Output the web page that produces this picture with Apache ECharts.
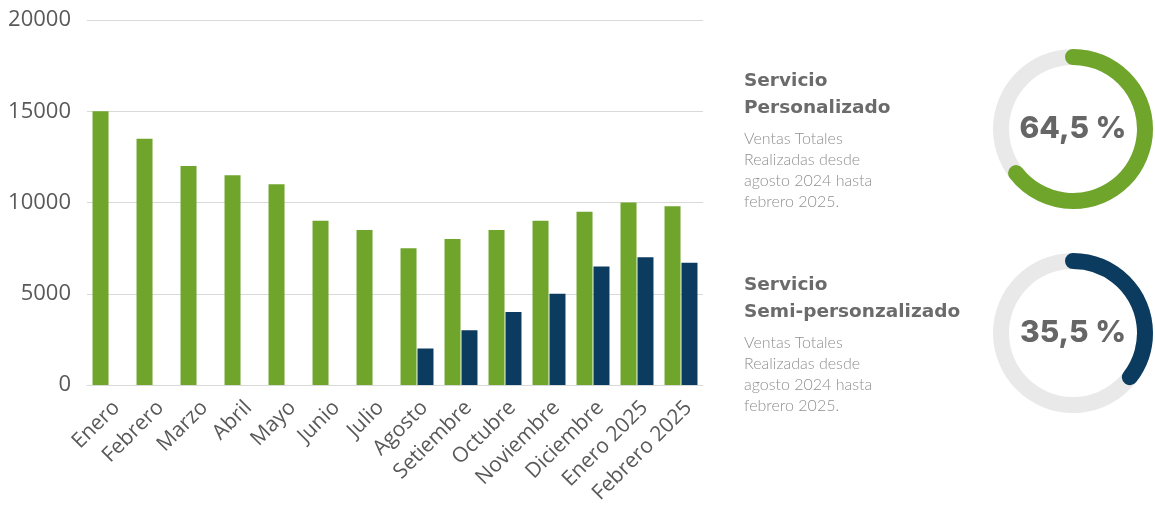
<!DOCTYPE html>
<html>
<head>
<meta charset="utf-8">
<script src="https://cdn.jsdelivr.net/npm/echarts@6/dist/echarts.min.js"></script>
<style>
  html, body { margin: 0; padding: 0; background: #fff; }
  #chart { width: 1155px; height: 509px; }
</style>
</head>
<body>
<div id="chart"></div>
<script>
const months = [
  'Enero', 'Febrero', 'Marzo', 'Abril', 'Mayo', 'Junio', 'Julio',
  'Agosto', 'Setiembre', 'Octubre', 'Noviembre', 'Diciembre', 'Enero 2025', 'Febrero 2025',
]
const personalizado = [15000, 13500, 12000, 11500, 11000, 9000, 8500, 7500, 8000, 8500, 9000, 9500, 10000, 9800]
const semiPersonalizado = [null, null, null, null, null, null, null, 2000, 3000, 4000, 5000, 6500, 7000, 6700]
const yTicks = [0, 5000, 10000, 15000, 20000]

const serviceTitles = ['Servicio\nPersonalizado', 'Servicio\nSemi-personzalizado']
const serviceShares = [64.5, 35.5]
const serviceNote = 'Ventas Totales\nRealizadas desde\nagosto 2024 hasta\nfebrero 2025.'

const GREEN = '#6fa52a'
const NAVY = '#0b3b5f'
const GREY_TEXT = '#595959'

const chart = echarts.init(document.getElementById('chart'), null, { renderer: 'canvas' })

// one ring per service share
function ring(value, color, cy) {
  return {
    type: 'gauge',
    center: [1073, cy],
    radius: 80,
    startAngle: 90,
    endAngle: -270,
    min: 0,
    max: 100,
    pointer: { show: false },
    anchor: { show: false },
    splitLine: { show: false },
    axisTick: { show: false },
    axisLabel: { show: false },
    title: { show: false },
    progress: {
      show: true,
      roundCap: true,
      width: 16,
      itemStyle: { color },
    },
    axisLine: {
      lineStyle: { width: 16, color: [[1, '#e9e9e9']] },
    },
    detail: {
      offsetCenter: [0, 0],
      fontFamily: 'Inter',
      fontWeight: 800,
      fontSize: 30,
      color: '#666666',
      formatter: v => v.toFixed(1).replace('.', ',') + ' %',
    },
    data: [{ value }],
  }
}

function textBlock(top, title, note) {
  return [
    {
      type: 'text',
      left: 744,
      top,
      style: {
        text: title,
        font: 'bold 18.5px "DejaVu Sans"',
        fill: '#6b6b6b',
        lineHeight: 27,
      },
    },
    {
      type: 'text',
      left: 744,
      top: top + 60,
      style: {
        text: note,
        font: '300 16px Lato',
        fill: '#909090',
        lineHeight: 21,
      },
    },
  ]
}

chart.setOption({
  backgroundColor: '#ffffff',
  animation: false,
  grid: {
    left: 87,
    right: 452,
    top: 20,
    bottom: 124,
    containLabel: false,
  },
  xAxis: {
    type: 'category',
    data: months,
    axisLine: { lineStyle: { color: '#d9d9d9' } },
    axisTick: { show: false },
    axisLabel: {
      rotate: 45,
      interval: 0,
      margin: 12,
      verticalAlign: 'top',
      fontFamily: 'Open Sans',
      fontSize: 21,
      color: GREY_TEXT,
    },
  },
  yAxis: {
    type: 'value',
    min: yTicks[0],
    max: yTicks[yTicks.length - 1],
    interval: yTicks[1] - yTicks[0],
    axisLine: { show: false },
    axisTick: { show: false },
    splitLine: { lineStyle: { color: '#d9d9d9' } },
    axisLabel: {
      margin: 16,
      fontFamily: 'Open Sans',
      fontSize: 22,
      color: GREY_TEXT,
      formatter: v => String(v),
    },
  },
  series: [
    {
      name: 'Servicio Personalizado',
      type: 'bar',
      data: personalizado,
      barWidth: 16,
      barGap: '6%',
      itemStyle: { color: GREEN },
    },
    {
      name: 'Servicio Semi-personzalizado',
      type: 'bar',
      data: semiPersonalizado,
      barWidth: 16,
      itemStyle: { color: NAVY },
    },
    ring(serviceShares[0], GREEN, 129),
    ring(serviceShares[1], NAVY, 333),
  ],
  graphic: [
    ...textBlock(68, serviceTitles[0], serviceNote),
    ...textBlock(272, serviceTitles[1], serviceNote),
  ],
})
</script>
</body>
</html>
